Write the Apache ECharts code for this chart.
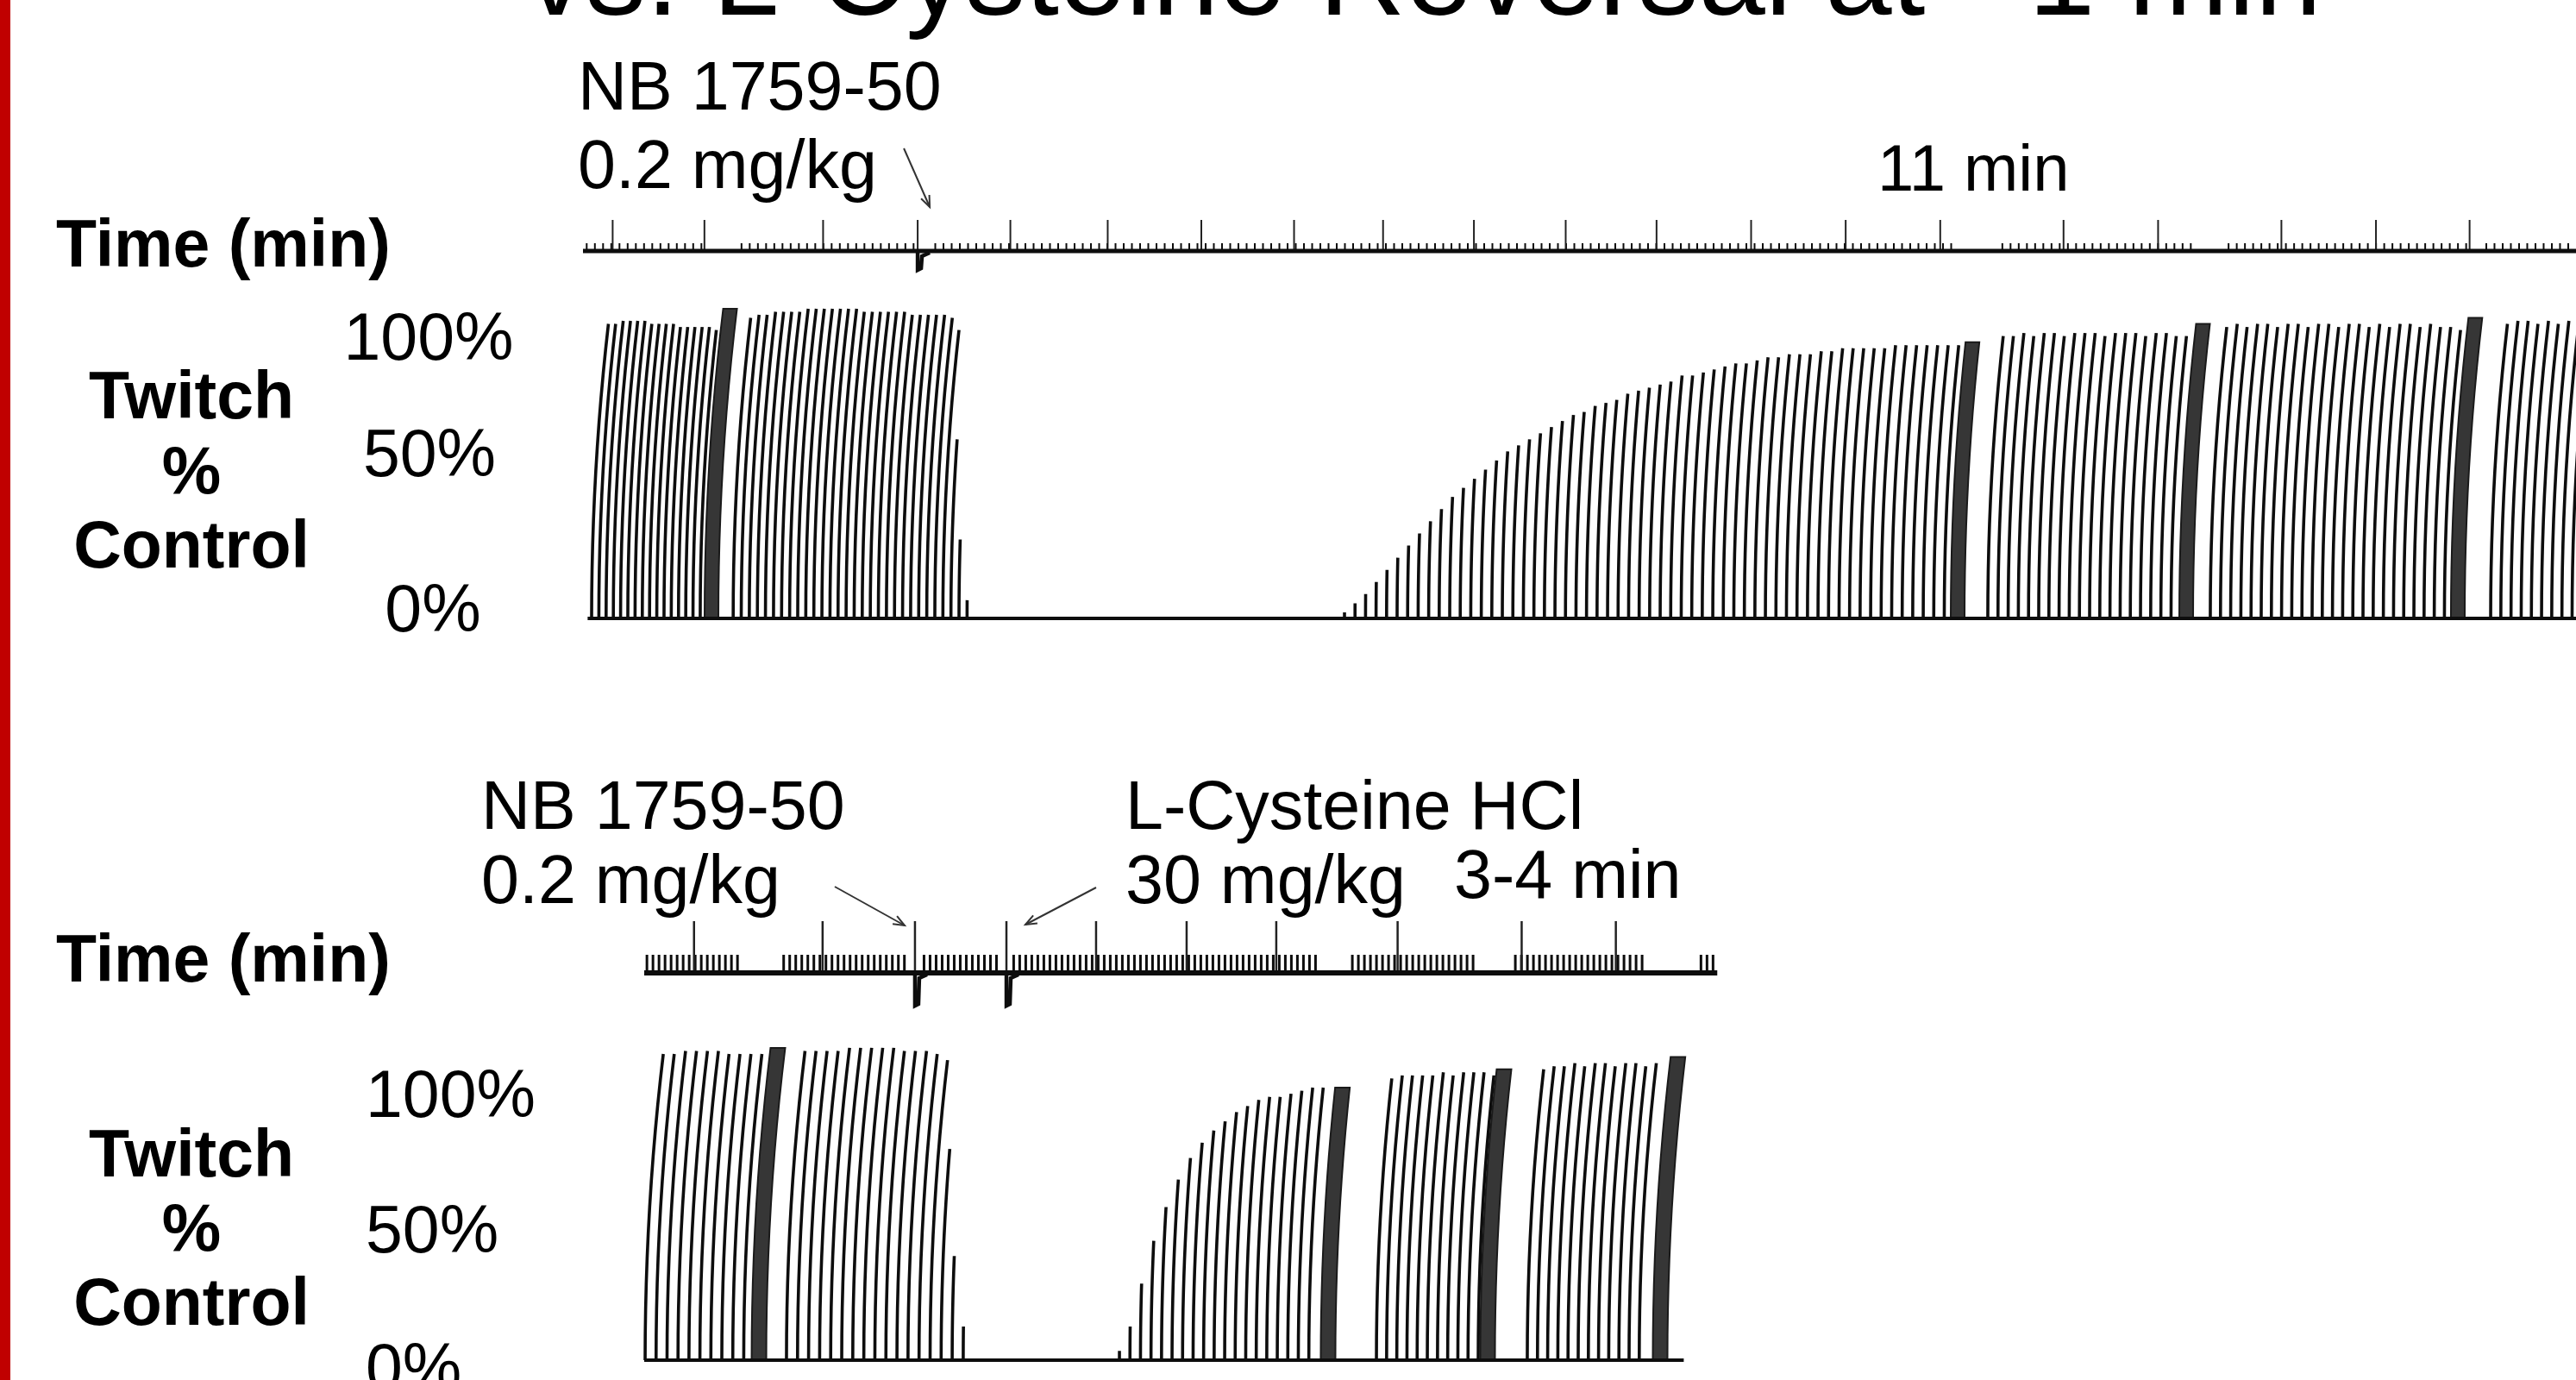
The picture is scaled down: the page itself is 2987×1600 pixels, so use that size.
<!DOCTYPE html>
<html><head><meta charset="utf-8">
<script src="https://cdn.jsdelivr.net/npm/echarts@6/dist/echarts.min.js"></script>
<style>html,body{margin:0;padding:0;background:#fff;overflow:hidden}#c{width:2987px;height:1600px}</style>
</head><body><div id="c"></div>
<script>
// ================= DATA =================
const titleText = 'vs. L-Cysteine Reversal at ~1 min';
const timeLabel = 'Time (min)';
const twitchLabel = ['Twitch', '%', 'Control'];
const pctTicks = ['100%', '50%', '0%'];

// ---- top recording (x = chart-paper time, min) ----
const topDrugLines = ['NB 1759-50', '0.2 mg/kg'];
const topDurationText = '11 min';
const topTraceRange = [0, 21.5];
const topMinuteMarks = [0.32, 1.31, 2.59, 3.61, 4.61, 5.66, 6.67, 7.67, 8.63, 9.61, 10.60, 11.58, 12.60, 13.62, 14.64, 15.97, 16.99, 18.32, 19.34, 20.35];
const topInjections = [3.61];
const topStimSpans = [[0.04, 1.31], [1.71, 3.57], [3.80, 14.78], [15.31, 17.38], [17.75, 20.37], [20.53, 21.5]];
const topBaselineRange = [0.05, 21.5];
// twitch runs: start time, stimulus interval (min), twitch heights (% control)
const topRunA = { start: 0.093, interval: 0.0781, heights: [97, 97, 98, 98, 98, 98, 97, 97, 97, 97, 96, 96, 96, 96, 96, 95] };
const topRunB = { start: 1.62, interval: 0.087, heights: [99, 100, 100, 101, 101, 101, 101, 102, 102, 102, 102, 102, 102, 102, 101, 101, 101, 101, 101, 101, 100, 100, 100, 100, 100, 99, 95, 59, 26, 6] };
const topRunC = { start: 8.214, interval: 0.1135, heights: [2, 5, 8, 12, 16, 20, 24, 28, 32, 36, 40, 43, 46, 49, 52, 55, 57, 59, 61, 63, 65, 67, 68, 70, 71, 72, 74, 75, 76, 77, 78, 80, 80, 81, 82, 83, 84, 84, 85, 86, 86, 87, 87, 87, 88, 88, 89, 89, 89, 89, 89, 90, 90, 90, 90, 90, 90, 90] };
const topRunD = { start: 15.153, interval: 0.1098, heights: [93, 93, 94, 93, 94, 94, 93, 94, 94, 94, 93, 94, 94, 94, 93, 94, 94, 93, 93] };
const topRunE = { start: 17.553, interval: 0.1098, heights: [96, 97, 96, 97, 97, 96, 97, 97, 96, 97, 97, 96, 97, 97, 96, 97, 96, 97, 97, 96, 97, 96, 96, 95] };
const topRunF = { start: 20.577, interval: 0.1098, heights: [97, 98, 98, 97, 98, 97, 98, 98, 97] };
const topTetanic = [[1.386, 102], [14.828, 91], [17.293, 97], [20.223, 99]];

// ---- bottom recording ----
const botDrugLines = ['NB 1759-50', '0.2 mg/kg'];
const botReversalLines = ['L-Cysteine HCl', '30 mg/kg'];
const botDurationText = '3-4 min';
const botTraceRange = [0, 11.85];
const botMinuteMarks = [0.55, 1.97, 2.99, 4.00, 4.99, 5.99, 6.98, 8.32, 9.69, 10.73];
const botInjections = [2.99, 4.00];
const botStimSpans = [[0.03, 1.06], [1.54, 2.93], [3.09, 3.93], [4.08, 7.43], [7.82, 9.19], [9.62, 11.08], [11.67, 11.85]];
const botBaselineRange = [0.0, 11.48];
const botRunA = { start: 0.01, interval: 0.121, heights: [100, 100, 101, 101, 101, 101, 100, 100, 100, 100] };
const botRunB = { start: 1.571, interval: 0.122, heights: [101, 101, 101, 101, 102, 102, 102, 102, 102, 101, 101, 101, 100, 98, 69, 34, 11] };
const botRunC = { start: 5.248, interval: 0.1162, heights: [3, 11, 25, 39, 50, 59, 66, 71, 75, 78, 81, 83, 85, 86, 86, 87, 88, 89, 89] };
const botRunD = { start: 8.086, interval: 0.1124, heights: [92, 93, 93, 93, 93, 94, 93, 94, 94, 94, 93] };
const botRunE = { start: 9.752, interval: 0.1124, heights: [95, 96, 96, 97, 96, 97, 97, 96, 97, 97, 96, 97] };
const botTetanic = [[1.267, 102], [7.552, 89], [9.314, 95], [11.219, 99]];

// ================= RENDERING =================
function runsToData(runs) {
  const out = [];
  runs.forEach(r => r.heights.forEach((h, i) => out.push([r.start + i * r.interval, h])));
  return out;
}
const ARC_R = 3000; // pen arm radius (px) -> curvilinear recorder arcs
function arc(b, H, off) {
  const pts = [], n = 12;
  for (let k = 0; k <= n; k++) {
    const dy = H * k / n;
    const dx = ARC_R - Math.sqrt(ARC_R * ARC_R - dy * dy);
    pts.push([b[0] + dx + off, b[1] - dy]);
  }
  return pts;
}
const INK = '#0d0d0d';
function twitchSeries(idx, data, lw) {
  return {
    type: 'custom', xAxisIndex: idx, yAxisIndex: idx, data, clip: false, silent: true,
    renderItem: (p, api) => {
      const t = api.value(0), h = api.value(1);
      if (!(h > 0)) return null;
      const b = api.coord([t, 0]), tp = api.coord([t, h]);
      return { type: 'polyline', shape: { points: arc(b, b[1] - tp[1], 0) }, style: { stroke: INK, lineWidth: lw, fill: 'none' } };
    }
  };
}
function tetanicSeries(idx, data, w) {
  return {
    type: 'custom', xAxisIndex: idx, yAxisIndex: idx, data, clip: false, silent: true,
    renderItem: (p, api) => {
      const t = api.value(0), h = api.value(1);
      const b = api.coord([t, 0]), tp = api.coord([t, h]);
      const H = b[1] - tp[1];
      const pts = arc(b, H, -w / 2).concat(arc(b, H, w / 2).reverse());
      return { type: 'polygon', shape: { points: pts }, style: { fill: '#363636', stroke: '#1a1a1a', lineWidth: 2 } };
    }
  };
}
function baselineSeries(idx, range, width) {
  return {
    type: 'line', xAxisIndex: idx, yAxisIndex: idx, data: [[range[0], 0], [range[1], 0]],
    symbol: 'none', silent: true, lineStyle: { color: INK, width: width }
  };
}
function combSeries(idx, spans, stepPx, len, lw) {
  return {
    type: 'custom', xAxisIndex: idx, yAxisIndex: idx, data: spans, clip: false, silent: true,
    renderItem: (p, api) => {
      const p0 = api.coord([api.value(0), 0]), p1 = api.coord([api.value(1), 0]);
      const ch = [];
      for (let x = p0[0]; x <= p1[0]; x += stepPx)
        ch.push({ type: 'line', shape: { x1: x, y1: p0[1], x2: x, y2: p0[1] - len }, style: { stroke: INK, lineWidth: lw } });
      return { type: 'group', children: ch };
    }
  };
}
function markSeries(idx, marks, len, lw) {
  return {
    type: 'custom', xAxisIndex: idx, yAxisIndex: idx, data: marks.map(t => [t, 0]), clip: false, silent: true,
    renderItem: (p, api) => {
      const b = api.coord([api.value(0), 0]);
      return { type: 'line', shape: { x1: b[0], y1: b[1], x2: b[0], y2: b[1] - len }, style: { stroke: '#222', lineWidth: lw } };
    }
  };
}
// injection notch + annotation arrow (arrow offsets are layout, px)
function injectionSeries(idx, inj, drop, arrows) {
  return {
    type: 'custom', xAxisIndex: idx, yAxisIndex: idx, data: inj.map(t => [t, 0]), clip: false, silent: true,
    renderItem: (p, api) => {
      const b = api.coord([api.value(0), 0]);
      const a = arrows[p.dataIndex];
      const tip = [b[0] + a.tip[0], b[1] + a.tip[1]], tail = [b[0] + a.tail[0], b[1] + a.tail[1]];
      const ang = Math.atan2(tip[1] - tail[1], tip[0] - tail[0]);
      const hl = 14, ha = 0.38;
      const h1 = [tip[0] - hl * Math.cos(ang - ha), tip[1] - hl * Math.sin(ang - ha)];
      const h2 = [tip[0] - hl * Math.cos(ang + ha), tip[1] - hl * Math.sin(ang + ha)];
      return {
        type: 'group', children: [
          { type: 'polyline', shape: { points: [[b[0], b[1]], [b[0], b[1] + drop], [b[0] + 4, b[1] + drop - 2], [b[0] + 5, b[1] + 6], [b[0] + 14, b[1] + 2]] }, style: { stroke: INK, lineWidth: 4.5, fill: 'none' } },
          { type: 'line', shape: { x1: tail[0], y1: tail[1], x2: tip[0], y2: tip[1] }, style: { stroke: '#333', lineWidth: 2 } },
          { type: 'polyline', shape: { points: [h1, tip, h2] }, style: { stroke: '#333', lineWidth: 2, fill: 'none' } }
        ]
      };
    }
  };
}

const FONT = '"Liberation Sans", Arial, "DejaVu Sans", sans-serif';
const TY = 6; // canvas 'middle' sits a little above the cap-height centre
function txt(text, x, y, size, opt) {
  opt = opt || {};
  return {
    type: 'text', silent: true, z: 10,
    style: {
      text, x, y: y + TY, font: (opt.bold ? 'bold ' : '') + size + 'px ' + FONT, fill: opt.color || '#000',
      align: opt.align || 'left', verticalAlign: 'middle', textAlign: opt.align || 'left', textVerticalAlign: 'middle'
    }
  };
}

const chart = echarts.init(document.getElementById('c'), null, { renderer: 'canvas', width: 2987, height: 1600 });

const grids = [
  { left: 676, top: 260, width: 2311.25, height: 62 },   // 0 top time trace (baseline y=291)
  { left: 676, top: 365, width: 2311.25, height: 352 },  // 1 top twitch (0% at 717)
  { left: 747, top: 1097, width: 1260, height: 62 },     // 2 bottom time trace (baseline 1128)
  { left: 747, top: 1222, width: 1260, height: 355 }     // 3 bottom twitch (0% at 1577)
].map(g => Object.assign({ outerBoundsMode: 'none', containLabel: false, show: false }, g));

const xAxes = [
  { gridIndex: 0, min: topTraceRange[0], max: topTraceRange[1] },
  { gridIndex: 1, min: topTraceRange[0], max: topTraceRange[1] },
  { gridIndex: 2, min: 0, max: 12 },
  { gridIndex: 3, min: 0, max: 12 }
].map(a => Object.assign({ type: 'value', show: false }, a));
const yAxes = [
  { gridIndex: 0, min: -1, max: 1 },
  { gridIndex: 1, min: 0, max: 100 },
  { gridIndex: 2, min: -1, max: 1 },
  { gridIndex: 3, min: 0, max: 100 }
].map(a => Object.assign({ type: 'value', show: false }, a));

const series = [
  // top
  baselineSeries(0, topTraceRange, 5),
  combSeries(0, topStimSpans, 9.5, 9, 2),
  markSeries(0, topMinuteMarks, 36, 2),
  injectionSeries(0, topInjections, 22, [{ tip: [14, -51], tail: [-16, -119] }]),
  baselineSeries(1, topBaselineRange, 4),
  twitchSeries(1, runsToData([topRunA, topRunB, topRunC, topRunD, topRunE, topRunF]), 3.6),
  tetanicSeries(1, topTetanic, 16),
  // bottom
  baselineSeries(2, botTraceRange, 6),
  combSeries(2, botStimSpans, 7, 21, 3),
  markSeries(2, botMinuteMarks, 60, 2.5),
  injectionSeries(2, botInjections, 38, [{ tip: [-12, -55], tail: [-93, -100] }, { tip: [22, -56], tail: [104, -99] }]),
  baselineSeries(3, botBaselineRange, 4),
  twitchSeries(3, runsToData([botRunA, botRunB, botRunC, botRunD, botRunE]), 3.6),
  tetanicSeries(3, botTetanic, 17)
];

const graphic = [
  { type: 'rect', shape: { x: 0, y: 0, width: 12, height: 1600 }, style: { fill: '#c00000' }, silent: true },
  txt(titleText, 610, -27, 139),
  // top panel texts
  txt(topDrugLines[0], 670, 99, 79),
  txt(topDrugLines[1], 670, 190, 79),
  txt(topDurationText, 2177, 194, 76),
  txt(timeLabel, 65, 282, 77, { bold: true }),
  txt(twitchLabel[0], 222, 458, 77, { bold: true, align: 'center' }),
  txt(twitchLabel[1], 222, 545, 77, { bold: true, align: 'center' }),
  txt(twitchLabel[2], 222, 631, 77, { bold: true, align: 'center' }),
  txt(pctTicks[0], 497, 390, 77, { align: 'center' }),
  txt(pctTicks[1], 498, 525, 77, { align: 'center' }),
  txt(pctTicks[2], 502, 705, 77, { align: 'center' }),
  // bottom panel texts
  txt(botDrugLines[0], 558, 933, 79),
  txt(botDrugLines[1], 558, 1019, 79),
  txt(botReversalLines[0], 1305, 933, 79),
  txt(botReversalLines[1], 1305, 1019, 79),
  txt(botDurationText, 1686, 1013, 79),
  txt(timeLabel, 65, 1111, 77, { bold: true }),
  txt(twitchLabel[0], 222, 1337, 77, { bold: true, align: 'center' }),
  txt(twitchLabel[1], 222, 1423, 77, { bold: true, align: 'center' }),
  txt(twitchLabel[2], 222, 1509, 77, { bold: true, align: 'center' }),
  txt(pctTicks[0], 424, 1268, 77),
  txt(pctTicks[1], 424, 1425, 77),
  txt(pctTicks[2], 424, 1585, 77)
];

chart.setOption({
  animation: false,
  backgroundColor: '#ffffff',
  grid: grids, xAxis: xAxes, yAxis: yAxes,
  series, graphic
});
</script></body></html>
